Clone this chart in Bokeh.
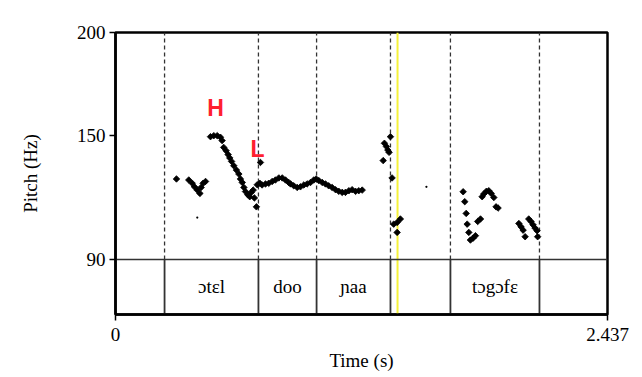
from bokeh.plotting import figure
from bokeh.models import Range1d, FixedTicker, Span
from bokeh.core.properties import value
from bokeh.embed import file_html
from bokeh.resources import INLINE
import numpy as np

# ---------------- data ----------------
T_MAX = 2.437
Y_TOP = 200
Y_TIER = 90
Y_BOTTOM = 63.3

y_ticks = [90, 150, 200]
x_ticks = [0, 2.437]
x_tick_labels = {0: "0", 2.437: "2.437"}

boundaries = [0.243, 0.708, 0.996, 1.362, 1.659, 2.100]
interval_start = [0.0, 0.243, 0.708, 0.996, 1.362, 1.659, 2.100]
interval_end = [0.243, 0.708, 0.996, 1.362, 1.659, 2.100, 2.437]
interval_label = ["", "ɔtɛl", "doo", "ɲaa", "", "tɔgɔfɛ", ""]

pitch_t = [
    0.302,
    0.363, 0.380, 0.391, 0.405, 0.418, 0.424, 0.434, 0.446,
    0.4705, 0.487, 0.504, 0.520, 0.528, 0.536, 0.548, 0.558, 0.566, 0.575,
    0.586, 0.599, 0.611, 0.619, 0.628, 0.636, 0.644, 0.655, 0.665, 0.672,
    0.682, 0.688, 0.698, 0.718,
    0.702, 0.715, 0.726, 0.743, 0.759, 0.776, 0.792, 0.809, 0.826, 0.842,
    0.858, 0.867, 0.883, 0.900, 0.916, 0.933, 0.949, 0.966, 0.982, 0.994,
    1.007, 1.024, 1.040, 1.056, 1.073, 1.090, 1.106, 1.123, 1.139, 1.156,
    1.172, 1.189, 1.205, 1.222,
    1.326, 1.332, 1.342, 1.349, 1.355, 1.362, 1.370,
    1.378, 1.395, 1.395, 1.411,
    1.722, 1.730, 1.737, 1.742, 1.750, 1.758, 1.771, 1.783, 1.794, 1.808,
    1.816, 1.824, 1.837, 1.849, 1.861, 1.874, 1.885, 1.895,
    1.998, 2.009, 2.019, 2.029, 2.047, 2.058, 2.068, 2.078, 2.088, 2.091,
]
pitch_hz = [
    129.0,
    128.5, 126.9, 125.2, 123.6, 122.0, 124.9, 126.9, 127.8,
    149.5, 150.0, 150.0, 149.2, 147.6, 144.3, 142.7, 140.8, 139.2, 137.5,
    135.4, 133.3, 131.4, 129.0, 127.3, 124.9, 122.9, 121.4, 120.4, 122.5,
    123.6, 119.8, 115.5, 137.0,
    126.2, 126.9, 126.1, 126.6, 126.9, 127.8, 128.5, 129.5, 129.5, 128.5,
    127.3, 126.6, 125.7, 124.9, 125.2, 126.1, 126.6, 127.3, 128.5, 129.0,
    128.2, 127.3, 126.6, 125.7, 124.9, 123.8, 123.0, 122.5, 122.5, 123.3,
    123.8, 123.0, 123.3, 123.6,
    137.9, 146.3, 144.7, 143.0, 141.9, 149.5, 129.5,
    107.1, 107.9, 103.1, 109.6,
    122.8, 118.0, 112.3, 107.1, 103.1, 99.4, 100.3, 101.5, 108.4, 109.6,
    120.4, 121.7, 123.0, 123.3, 122.0, 120.0, 115.5, 114.9,
    107.4, 105.8, 104.2, 101.0, 109.6, 108.4, 106.8, 105.2, 103.9, 101.0,
]
faint_t = [0.405, 1.540]
faint_hz = [110.3, 125.2]

tone_label = ["H", "L"]
tone_t = [0.495, 0.703]
tone_hz = [163.6, 143.7]

cursor_t = 1.397

# ---------------- figure ----------------
p = figure(
    width=634, height=375,
    x_range=Range1d(0, T_MAX), y_range=Range1d(Y_BOTTOM, Y_TOP),
    output_backend="svg", toolbar_location=None,
    min_border_left=115, min_border_right=27, min_border_top=32, min_border_bottom=61,
    background_fill_color="white", border_fill_color="white",
)
p.grid.visible = False
p.outline_line_color = "black"
p.outline_line_width = 2.5

serif = "Liberation Serif"

# cursor (yellow)
p.add_layout(Span(location=cursor_t, dimension="height", line_color="#f6f23a",
                  line_width=2, level="underlay"))

# tier
p.segment(x0=0, y0=Y_TIER, x1=T_MAX, y1=Y_TIER, line_color="#333333", line_width=1.5)
p.segment(x0=boundaries, y0=[Y_BOTTOM] * len(boundaries), x1=boundaries,
          y1=[Y_TIER] * len(boundaries), line_color="#333333", line_width=1.8)
p.segment(x0=boundaries, y0=[Y_TIER] * len(boundaries), x1=boundaries,
          y1=[Y_TOP] * len(boundaries), line_color="#333333", line_width=1.3,
          line_dash="4 3")
mid_t = [(a + b) / 2 for a, b in zip(interval_start, interval_end)]
mid_y = [(Y_TIER + Y_BOTTOM) / 2] * len(mid_t)
p.text(x=mid_t, y=mid_y, text=interval_label, text_font=value(serif),
       text_font_size="19px", text_align="center", text_baseline="middle",
       text_color="black")

# pitch points
p.scatter(x=pitch_t, y=pitch_hz, marker="square", angle=np.pi / 4, size=4.6,
          fill_color="black", line_color="black", line_width=0.8)
p.scatter(x=faint_t, y=faint_hz, marker="circle", size=2.2,
          fill_color="black", line_color=None)

# tone labels
p.text(x=tone_t, y=tone_hz, text=tone_label, text_font=value("Liberation Sans"),
       text_font_style="bold", text_font_size="23px", text_align="center",
       text_baseline="middle", text_color="#ff2030")

# axes
for ax in (p.xaxis[0], p.yaxis[0]):
    ax.axis_line_color = "black"
    ax.axis_line_width = 2.5
    ax.major_tick_line_color = "black"
    ax.major_tick_line_width = 1.5
    ax.major_tick_out = 6
    ax.major_tick_in = 0
    ax.minor_tick_line_color = None
    ax.major_label_text_font = serif
    ax.major_label_text_font_size = "19px"
    ax.major_label_text_color = "black"
    ax.axis_label_text_font = serif
    ax.axis_label_text_font_size = "19px"
    ax.axis_label_text_font_style = "normal"
    ax.axis_label_text_color = "black"

p.yaxis[0].ticker = FixedTicker(ticks=y_ticks)
p.yaxis[0].major_label_standoff = 4
p.yaxis[0].axis_label = "Pitch (Hz)"
p.yaxis[0].axis_label_standoff = 33

p.xaxis[0].ticker = FixedTicker(ticks=x_ticks)
p.xaxis[0].major_label_overrides = x_tick_labels
p.xaxis[0].major_label_standoff = 7
p.xaxis[0].axis_label = "Time (s)"
p.xaxis[0].axis_label_standoff = 6

open("out.html", "w").write(file_html(p, INLINE))
